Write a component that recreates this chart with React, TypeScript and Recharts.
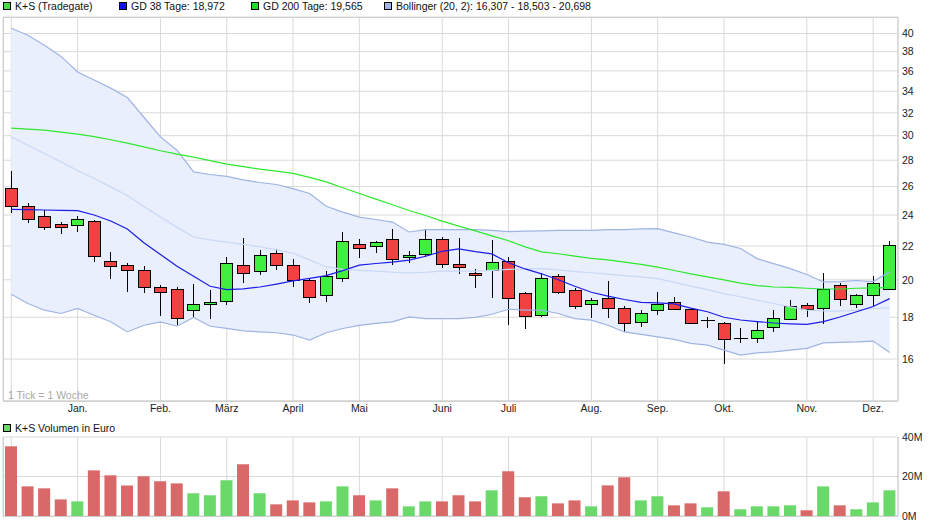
import React from "react";
import { ComposedChart, Bar, Line, Area, XAxis, YAxis, CartesianGrid, Cell } from "recharts";

// weekly candles, index 0 = first week shown
const monthTicks = [0, 4, 9, 13, 17, 21, 26, 30, 35, 39, 43, 48, 52];
const monthLabels = ["", "Jan.", "Feb.", "März", "April", "Mai", "Juni", "Juli", "Aug.", "Sep.", "Okt.", "Nov.", "Dez."];
const priceTicks = [16, 18, 20, 22, 24, 26, 28, 30, 32, 34, 36, 38, 40];
const volumeTicks = [0, 20, 40];

const open = [25.9, 24.65, 23.9, 23.4, 23.35, 23.6, 21.1, 20.85, 20.55, 19.6, 19.5, 18.35, 18.7, 18.85, 20.85, 20.5, 21.55, 20.85, 20.0, 19.15, 20.1, 22.15, 22.0, 22.45, 21.3, 21.5, 22.45, 20.9, 20.4, 20.55, 21.1, 19.25, 18.1, 20.2, 19.45, 18.7, 19.0, 18.5, 17.75, 18.35, 18.8, 18.4, 17.87, 17.7, 16.96, 17.0, 17.5, 17.9, 18.65, 18.5, 19.7, 18.7, 19.15, 19.5];
const high = [27.2, 24.85, 24.35, 23.5, 23.95, 23.65, 21.65, 20.95, 20.8, 19.7, 19.6, 19.75, 19.45, 21.3, 22.5, 21.75, 21.8, 21.2, 20.05, 20.5, 22.9, 22.45, 22.3, 23.05, 21.7, 23.0, 22.55, 22.5, 20.6, 22.4, 21.35, 19.3, 20.4, 20.35, 19.55, 19.0, 19.95, 18.6, 18.35, 19.3, 19.05, 18.45, 18.0, 17.75, 17.45, 17.8, 18.35, 18.9, 18.75, 20.4, 19.8, 19.2, 20.2, 22.3];
const low = [24.15, 23.45, 23.0, 22.75, 22.9, 21.0, 20.05, 19.3, 19.25, 18.05, 17.6, 17.95, 17.9, 18.65, 19.8, 20.3, 20.55, 19.6, 18.75, 18.8, 19.9, 21.25, 21.55, 20.85, 20.95, 21.35, 20.7, 20.35, 19.55, 19.0, 17.6, 17.4, 18.0, 19.2, 18.4, 17.95, 17.95, 17.25, 17.5, 18.1, 18.38, 17.65, 17.45, 15.8, 16.75, 16.75, 17.25, 17.85, 18.0, 17.65, 18.6, 18.5, 18.6, 19.45];
const close = [24.65, 23.7, 23.2, 23.2, 23.7, 21.4, 20.8, 20.55, 19.6, 19.35, 17.95, 18.7, 18.8, 20.95, 20.4, 21.45, 20.85, 20.0, 19.05, 20.2, 22.3, 21.85, 22.25, 21.2, 21.45, 22.45, 20.9, 20.75, 20.3, 21.05, 19.0, 18.05, 20.1, 19.35, 18.6, 18.9, 18.45, 17.7, 18.2, 18.7, 18.4, 17.7, 17.87, 16.95, 16.96, 17.35, 17.95, 18.6, 18.4, 19.5, 18.95, 19.15, 19.8, 22.05];

const gd38 = [24.38, 24.37, 24.34, 24.32, 24.3, 24.0, 23.6, 23.07, 22.2, 21.47, 20.78, 20.2, 19.64, 19.46, 19.5, 19.6, 19.76, 19.94, 20.08, 20.24, 20.52, 20.84, 20.94, 21.02, 21.14, 21.37, 21.67, 21.82, 21.65, 21.51, 20.98, 20.62, 20.34, 20.0, 19.64, 19.31, 19.1, 18.92, 18.77, 18.74, 18.69, 18.47, 18.28, 18.0, 17.86, 17.78, 17.71, 17.67, 17.64, 17.78, 18.01, 18.28, 18.55, 18.97];
const gd200 = [30.65, 30.57, 30.47, 30.3, 30.13, 29.92, 29.66, 29.38, 29.07, 28.76, 28.48, 28.24, 27.97, 27.69, 27.5, 27.31, 27.15, 26.98, 26.68, 26.35, 25.91, 25.5, 25.1, 24.7, 24.31, 23.97, 23.59, 23.26, 22.95, 22.63, 22.32, 21.94, 21.64, 21.52, 21.38, 21.24, 21.15, 21.02, 20.89, 20.73, 20.53, 20.34, 20.17, 20.0, 19.81, 19.68, 19.6, 19.58, 19.53, 19.49, 19.49, 19.53, 19.55, 19.565];
const bbUpper = [40.6, 39.8, 38.7, 37.5, 35.9, 35.1, 34.3, 33.4, 31.6, 29.9, 28.8, 27.1, 26.9, 26.75, 26.5, 26.3, 26.15, 25.85, 25.5, 24.6, 24.2, 23.86, 23.7, 23.53, 22.88, 23.03, 23.03, 23.03, 23.03, 22.98, 22.9, 22.93, 22.95, 22.98, 22.98, 22.98, 23.03, 23.03, 23.08, 23.1, 22.82, 22.56, 22.24, 22.1, 21.84, 21.23, 20.93, 20.64, 20.3, 19.88, 19.9, 19.96, 19.9, 20.45];
const bbMid = [29.9, 29.2, 28.54, 27.87, 27.2, 26.6, 25.98, 25.36, 24.59, 23.86, 23.18, 22.56, 22.38, 22.24, 22.1, 21.95, 21.76, 21.55, 21.15, 20.75, 20.6, 20.54, 20.49, 20.43, 20.39, 20.43, 20.49, 20.49, 20.49, 20.54, 20.6, 20.63, 20.64, 20.57, 20.46, 20.4, 20.32, 20.24, 20.16, 20.07, 19.86, 19.65, 19.45, 19.24, 19.07, 18.89, 18.71, 18.53, 18.36, 18.33, 18.31, 18.36, 18.44, 18.5];
const bbLower = [19.2, 18.71, 18.36, 18.19, 18.45, 18.1, 17.77, 17.27, 17.6, 17.77, 17.55, 17.99, 17.55, 17.44, 17.32, 17.27, 17.23, 17.12, 16.88, 17.23, 17.44, 17.59, 17.69, 17.77, 18.02, 17.93, 17.93, 17.93, 17.99, 18.15, 18.41, 18.36, 18.36, 18.19, 17.93, 17.85, 17.6, 17.27, 17.15, 17.03, 16.91, 16.72, 16.64, 16.41, 16.18, 16.28, 16.33, 16.41, 16.49, 16.75, 16.77, 16.79, 16.83, 16.3];

// Volumen in Mio. Euro
const volume = [35.3, 15.0, 14.0, 8.4, 7.4, 23.1, 20.6, 15.5, 20.1, 17.6, 16.5, 11.5, 10.5, 18.1, 26.2, 11.5, 5.9, 7.9, 6.9, 7.4, 15.0, 10.5, 7.9, 14.0, 4.9, 7.4, 7.4, 10.5, 7.4, 13.0, 22.6, 9.5, 10.0, 6.4, 7.9, 4.9, 15.5, 19.6, 7.9, 10.0, 5.4, 6.4, 4.4, 12.5, 3.4, 4.9, 4.9, 5.4, 2.9, 15.0, 5.4, 3.4, 6.9, 13.0];

const RED = "#f24141";
const GREEN = "#3ff03f";
const VOL_RED = "#d96868";
const VOL_GREEN = "#6ad96a";
const GRID = "#d9d9d9";
const FONT = '"Liberation Sans", Arial, sans-serif';

const rows = open.map((o, i) => ({
  i,
  open: o,
  high: high[i],
  low: low[i],
  close: close[i],
  range: [low[i], high[i]],
  gd38: gd38[i],
  gd200: gd200[i],
  band: [bbLower[i], bbUpper[i]],
  upper: bbUpper[i],
  mid: bbMid[i],
  lower: bbLower[i],
  vol: volume[i],
  up: close[i] >= o,
}));

function Candle(props: any) {
  const { x, y, width, height, payload } = props;
  if (x == null || y == null || !payload) return null;
  const cx = Math.round(x + width / 2) + 0.5;
  const top = Math.min(y, y + height);
  const bottom = Math.max(y, y + height);
  const lo = Math.log(payload.low);
  const hi = Math.log(payload.high);
  // log axis: place open/close between the high and low pixels
  const py = (v: number) => (hi === lo ? top : bottom - ((Math.log(v) - lo) / (hi - lo)) * (bottom - top));
  const yo = py(payload.open);
  const yc = py(payload.close);
  const bTop = Math.round(Math.min(yo, yc)) + 0.5;
  const bBot = Math.round(Math.max(yo, yc)) + 0.5;
  const bw = 12;
  const left = cx - bw / 2;
  return (
    <g shapeRendering="crispEdges">
      <line x1={cx} x2={cx} y1={Math.round(top)} y2={Math.round(bottom)} stroke="#000" strokeWidth={1} />
      {bBot - bTop < 1 ? (
        <line x1={left - 1} x2={left + bw + 1} y1={bTop} y2={bTop} stroke="#000" strokeWidth={1.5} />
      ) : (
        <rect x={left} y={bTop} width={bw} height={bBot - bTop} fill={payload.up ? GREEN : RED} stroke="#000" strokeWidth={1} />
      )}
    </g>
  );
}

function LegendItem({ left, top, color, text }: { left: number; top: number; color: string; text: string }) {
  return (
    <div style={{ position: "absolute", left, top, height: 12, display: "flex", alignItems: "center", whiteSpace: "nowrap" }}>
      <span style={{ display: "inline-block", width: 6, height: 6, border: "1px solid #000", background: color, marginRight: 4 }} />
      <span>{text}</span>
    </div>
  );
}

export default function App() {
  const tickStyle = { fontSize: 10.5, fill: "#222", fontFamily: FONT };
  return (
    <div style={{ position: "fixed", left: 0, top: 0, width: 940, height: 526, background: "#fff", fontFamily: FONT, fontSize: 10.5, color: "#111", overflow: "hidden" }}>
      <div style={{ position: "absolute", left: 0, top: 0 }}>
        <ComposedChart width={940} height={420} data={rows} margin={{ top: 17, right: 0, bottom: 0, left: 3 }}>
          <CartesianGrid stroke={GRID} strokeWidth={1} />
          <XAxis
            dataKey="i"
            type="number"
            domain={[-0.5, 53.5]}
            ticks={monthTicks}
            interval={0}
            tickFormatter={(v: number) => monthLabels[monthTicks.indexOf(v)] ?? ""}
            tickLine={false}
            tickSize={3}
            tickMargin={1}
            height={19}
            axisLine={{ stroke: "#cfcfcf" }}
            tick={tickStyle}
          />
          <YAxis
            orientation="right"
            type="number"
            scale="log"
            domain={[14.22, 41.9]}
            allowDataOverflow
            ticks={priceTicks}
            interval={0}
            width={42}
            tickLine={false}
            tickSize={2}
            tickMargin={2}
            axisLine={{ stroke: "#cfcfcf" }}
            tick={{ ...tickStyle, textAnchor: "start" }}
          />
          <Area dataKey="band" type="linear" stroke="none" fill="#e9effc" fillOpacity={1} isAnimationActive={false} />
          <Line dataKey="upper" type="linear" stroke="#9fb4e4" strokeWidth={1.2} dot={false} isAnimationActive={false} />
          <Line dataKey="lower" type="linear" stroke="#9fb4e4" strokeWidth={1.2} dot={false} isAnimationActive={false} />
          <Line dataKey="mid" type="linear" stroke="#c8d8f7" strokeWidth={1.2} dot={false} isAnimationActive={false} />
          <Line dataKey="gd200" type="linear" stroke="#2ee82e" strokeWidth={1.2} dot={false} isAnimationActive={false} />
          <Line dataKey="gd38" type="linear" stroke="#1c1ce6" strokeWidth={1.2} dot={false} isAnimationActive={false} />
          <Bar dataKey="range" barSize={12} shape={(p: any) => <Candle {...p} />} isAnimationActive={false} />
        </ComposedChart>
      </div>
      <div style={{ position: "absolute", left: 3, top: 17, width: 894, height: 383, border: "1px solid #cfcfcf", borderRight: "none", pointerEvents: "none" }} />
      <div style={{ position: "absolute", left: 8, top: 389, color: "#a9a9a9", whiteSpace: "nowrap", lineHeight: "12px" }}>1 Tick = 1 Woche</div>

      <LegendItem left={3} top={0} color="#45e045" text="K+S (Tradegate)" />
      <LegendItem left={119} top={0} color="#1010e8" text="GD 38 Tage: 18,972" />
      <LegendItem left={251} top={0} color="#22dd22" text="GD 200 Tage: 19,565" />
      <LegendItem left={384} top={0} color="#a3b6e6" text="Bollinger (20, 2): 16,307 - 18,503 - 20,698" />

      <LegendItem left={3} top={422} color={VOL_GREEN} text="K+S Volumen in Euro" />
      <div style={{ position: "absolute", left: 0, top: 430 }}>
        <ComposedChart width={940} height={96} data={rows} margin={{ top: 7, right: 0, bottom: 10, left: 3 }}>
          <CartesianGrid stroke={GRID} strokeWidth={1} />
          <XAxis dataKey="i" type="number" domain={[-0.5, 53.5]} ticks={monthTicks} interval={0} hide />
          <YAxis
            orientation="right"
            type="number"
            domain={[0, 40]}
            ticks={volumeTicks}
            interval={0}
            width={42}
            tickLine={false}
            tickSize={2}
            tickMargin={2}
            axisLine={{ stroke: "#cfcfcf" }}
            tickFormatter={(v: number) => `${v}M`}
            tick={{ ...tickStyle, textAnchor: "start" }}
          />
          <Bar dataKey="vol" barSize={12} isAnimationActive={false}>
            {rows.map((r) => (
              <Cell key={r.i} fill={r.up ? VOL_GREEN : VOL_RED} />
            ))}
          </Bar>
        </ComposedChart>
      </div>
      <div style={{ position: "absolute", left: 3, top: 437, width: 894, height: 79, borderLeft: "1px solid #cfcfcf", borderBottom: "1px solid #cfcfcf", pointerEvents: "none" }} />
    </div>
  );
}
